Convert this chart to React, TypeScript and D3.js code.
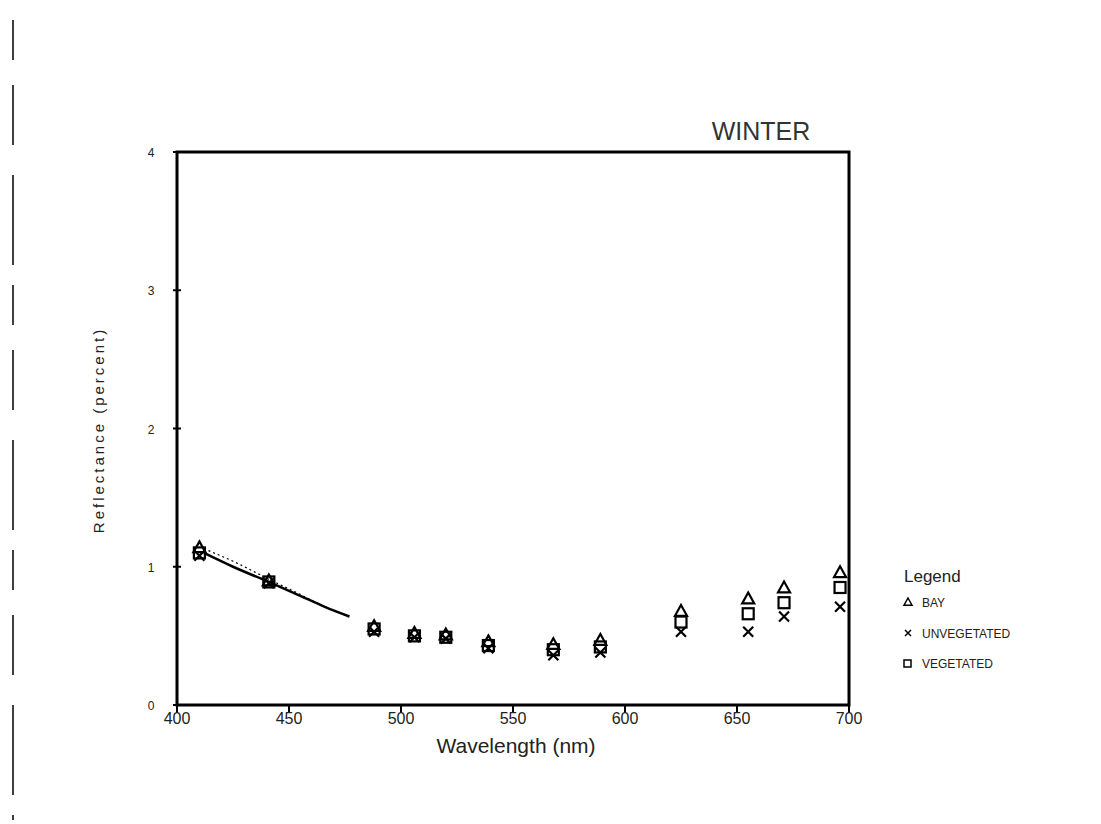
import React from "react";
import * as d3 from "d3";

const wavelengths = [410, 441, 488, 506, 520, 539, 568, 589, 625, 655, 671, 696];
const bay = [1.14, 0.9, 0.57, 0.52, 0.51, 0.46, 0.44, 0.47, 0.68, 0.77, 0.85, 0.96];
const unvegetated = [1.08, 0.88, 0.53, 0.49, 0.48, 0.41, 0.36, 0.38, 0.53, 0.53, 0.64, 0.71];
const vegetated = [1.1, 0.89, 0.55, 0.5, 0.49, 0.43, 0.4, 0.42, 0.6, 0.66, 0.74, 0.85];

const fitSolidX = [412, 425, 441, 455, 466, 477];
const fitSolidY = [1.1, 1.0, 0.89, 0.79, 0.71, 0.64];
const fitDotX = [412, 425, 441, 455, 466, 475];
const fitDotY = [1.13, 1.04, 0.91, 0.8, 0.71, 0.65];

const xTicks = [400, 450, 500, 550, 600, 650, 700];
const yTicks = [0, 1, 2, 3, 4];
const legendLabels = ["BAY", "UNVEGETATED", "VEGETATED"];

export default function App() {
  const W = 1101, H = 824;
  const left = 177, right = 849, top = 152, bottom = 705;
  const x = d3.scaleLinear().domain([400, 700]).range([left, right]);
  const y = d3.scaleLinear().domain([0, 4]).range([bottom, top]);
  const font = "'Liberation Sans', Arial, sans-serif";

  const lineGen = d3.line<[number, number]>().x(d => x(d[0])).y(d => y(d[1])).curve(d3.curveMonotoneX);
  const solid = fitSolidX.map((v, i) => [v, fitSolidY[i]] as [number, number]);
  const dotted = fitDotX.map((v, i) => [v, fitDotY[i]] as [number, number]);

  const tri = (cx: number, cy: number, s = 6) =>
    `M${cx},${cy - s} L${cx + s},${cy + s * 0.8} L${cx - s},${cy + s * 0.8} Z`;

  return (
    <svg width={W} height={H} style={{ position: "absolute", left: 0, top: 0, background: "#fff" }}>
      <rect x={0} y={0} width={W} height={H} fill="#fff" />
      {/* scan edge */}
      <line x1={13} y1={20} x2={13} y2={820} stroke="#000" strokeWidth={1.5} strokeDasharray="40 25 60 30 90 20" />
      {/* title */}
      <text x={761} y={140} textAnchor="middle" fontFamily={font} fontSize={25} fill="#333" fontWeight={300}>WINTER</text>
      {/* frame */}
      <rect x={left} y={top} width={right - left} height={bottom - top} fill="none" stroke="#000" strokeWidth={3} />
      {/* x ticks */}
      {xTicks.map(t => (
        <g key={t}>
          <line x1={x(t)} x2={x(t)} y1={bottom} y2={bottom + 8} stroke="#000" strokeWidth={2} />
          <text x={x(t)} y={bottom + 19} textAnchor="middle" fontFamily={font} fontSize={16} fill="#222">{t}</text>
        </g>
      ))}
      {/* y ticks */}
      {yTicks.map(t => (
        <g key={t}>
          <line x1={left - 4} x2={left + 4} y1={y(t)} y2={y(t)} stroke="#000" strokeWidth={2} />
          <text x={left - 26} y={y(t) + 5} textAnchor="middle" fontFamily={font} fontSize={12} fill="#222">{t}</text>
        </g>
      ))}
      {/* axis labels */}
      <text x={516} y={753} textAnchor="middle" fontFamily={font} fontSize={21} fill="#222">Wavelength (nm)</text>
      <text transform={`translate(104, 430) rotate(-90)`} textAnchor="middle" fontFamily={font} fontSize={15} fill="#222" letterSpacing={3}>Reflectance (percent)</text>
      {/* fitted lines */}
      <path d={lineGen(solid) || ""} fill="none" stroke="#000" strokeWidth={2.5} />
      <path d={lineGen(dotted) || ""} fill="none" stroke="#000" strokeWidth={1.2} strokeDasharray="2 3" />
      {/* markers */}
      {wavelengths.map((w, i) => (
        <g key={w} stroke="#000" strokeWidth={2.2} fill="none">
          <path d={tri(x(w), y(bay[i]))} />
          <rect x={x(w) - 5.5} y={y(vegetated[i]) - 5.5} width={11} height={11} />
          <path d={`M${x(w) - 5},${y(unvegetated[i]) - 5} L${x(w) + 5},${y(unvegetated[i]) + 5} M${x(w) + 5},${y(unvegetated[i]) - 5} L${x(w) - 5},${y(unvegetated[i]) + 5}`} />
        </g>
      ))}
      {/* legend */}
      <text x={904} y={582} fontFamily={font} fontSize={17} fill="#222">Legend</text>
      <g fontFamily={font} fontSize={12} fill="#222">
        <path d={tri(908, 602, 4)} stroke="#000" strokeWidth={1.5} fill="none" />
        <text x={922} y={607}>{legendLabels[0]}</text>
        <path d="M905,630 L911,636 M911,630 L905,636" stroke="#000" strokeWidth={1.5} />
        <text x={922} y={638}>{legendLabels[1]}</text>
        <rect x={904} y={660} width={7} height={7} stroke="#000" strokeWidth={1.5} fill="none" />
        <text x={922} y={668}>{legendLabels[2]}</text>
      </g>
    </svg>
  );
}
